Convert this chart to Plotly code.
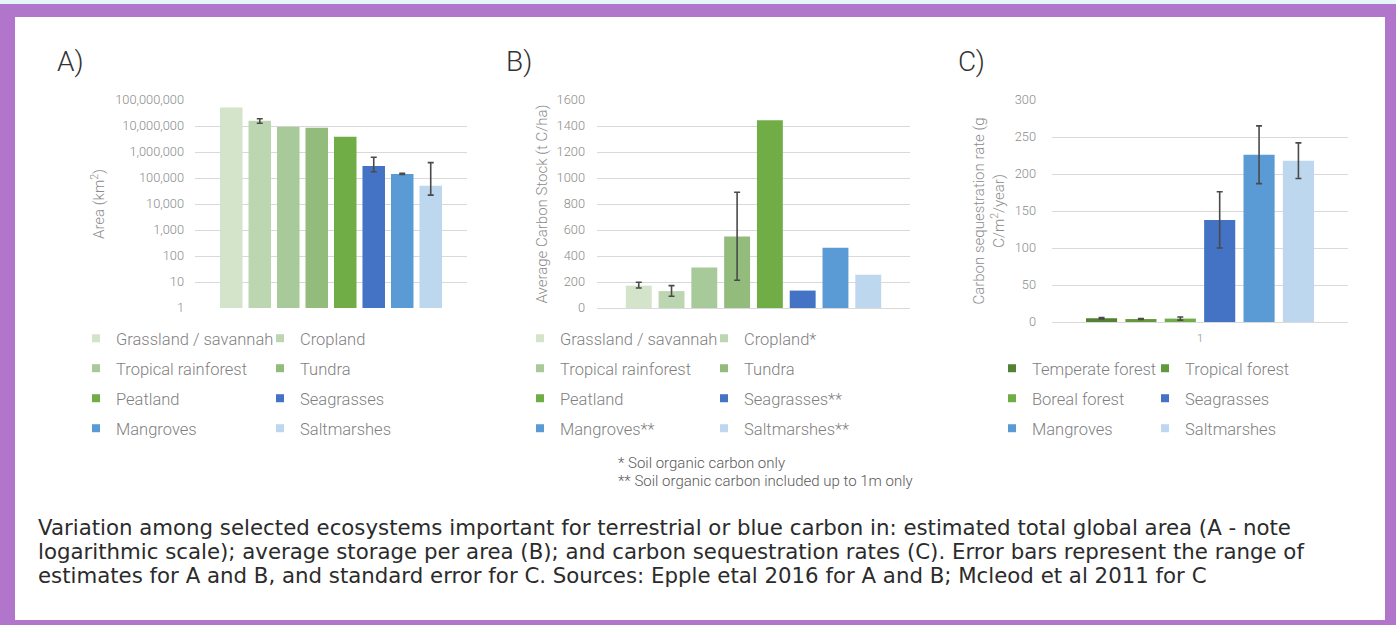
import plotly.graph_objects as go

W, H = 1396, 625


def px(x):
    return x / W


def py(y):
    return 1 - y / H


GROUP_LABEL = ["1"]

# ---------------- Panel A: area (km2), log scale ----------------
A_CATS = ["Grassland / savannah", "Cropland", "Tropical rainforest", "Tundra",
          "Peatland", "Seagrasses", "Mangroves", "Saltmarshes"]
A_AREA = [52000000, 16000000, 9400000, 8500000, 3900000, 290000, 142000, 50000]
A_HI = [None, 19000000, None, None, None, 630000, 152000, 390000]
A_LO = [None, 12700000, None, None, None, 175000, 138000, 22000]
A_TICKS = [1, 10, 100, 1000, 10000, 100000, 1000000, 10000000, 100000000]
A_TICKTEXT = [f"{v:,}" for v in A_TICKS]

# ---------------- Panel B: average carbon stock (t C/ha) ----------------
B_CATS = ["Grassland / savannah", "Cropland*", "Tropical rainforest", "Tundra",
          "Peatland", "Seagrasses**", "Mangroves**", "Saltmarshes**"]
B_STOCK = [172, 130, 312, 550, 1445, 134, 463, 256]
B_HI = [198, 172, None, 890, None, None, None, None]
B_LO = [154, 90, None, 213, None, None, None, None]

# ---------------- Panel C: sequestration rate (g C/m2/year) ----------------
C_CATS = ["Temperate forest", "Tropical forest", "Boreal forest",
          "Seagrasses", "Mangroves", "Saltmarshes"]
C_RATE = [5.1, 4.0, 4.6, 138, 226, 218]
C_SE = [1.0, 0.5, 2.1, 38, 39, 24]

AB_COLORS = ["#d3e4cb", "#bdd6b2", "#a8ca9a", "#92bb7c", "#70ad47",
             "#4472c4", "#5b9bd5", "#bdd7ee"]
C_COLORS = ["#548235", "#63993e", "#70ad47", "#4472c4", "#5b9bd5", "#bdd7ee"]

CAPTION_LINES = [
    "Variation among selected ecosystems important for terrestrial or blue carbon in: "
    "estimated total global area (A - note",
    "logarithmic scale); average storage per area (B); and carbon sequestration rates (C). "
    "Error bars represent the range of",
    "estimates for A and B, and standard error for C. Sources: Epple etal 2016 for A and B; "
    "Mcleod et al 2011 for C",
]
FOOTNOTES = ["* Soil organic carbon only", "** Soil organic carbon included up to 1m only"]

ERR_COLOR = "#4a4a4a"
GRID = "#d9d9d9"
TICK_COL = "#8c8c8c"
LEG_COL = "#7f7f7f"
FONT = "Roboto"

fig = go.Figure()


def err(v, hi, lo):
    if hi is None:
        return dict(visible=False)
    return dict(type="data", symmetric=False, array=[hi - v], arrayminus=[v - lo],
                color=ERR_COLOR, thickness=1.6, width=3)


def legend_entry(name, color, xa, ya, legend_id):
    # small square swatch used only for the legend
    fig.add_trace(go.Scatter(x=[None], y=[None], mode="markers", name=name,
                             marker=dict(symbol="square", size=8, color=color),
                             xaxis=xa, yaxis=ya, legend=legend_id,
                             legendgroup=name + legend_id, hoverinfo="skip"))


for i, (name, v, hi, lo, c) in enumerate(zip(A_CATS, A_AREA, A_HI, A_LO, AB_COLORS)):
    fig.add_trace(go.Bar(x=GROUP_LABEL, y=[v], name=name, marker_color=c,
                         marker_line_width=0, xaxis="x", yaxis="y",
                         error_y=err(v, hi, lo), showlegend=False))
for i, (name, v, hi, lo, c) in enumerate(zip(B_CATS, B_STOCK, B_HI, B_LO, AB_COLORS)):
    fig.add_trace(go.Bar(x=GROUP_LABEL, y=[v], name=name, marker_color=c,
                         marker_line_width=0, xaxis="x2", yaxis="y2",
                         error_y=err(v, hi, lo), showlegend=False))
for i, (name, v, se, c) in enumerate(zip(C_CATS, C_RATE, C_SE, C_COLORS)):
    fig.add_trace(go.Bar(x=GROUP_LABEL, y=[v], name=name, marker_color=c,
                         marker_line_width=0, xaxis="x3", yaxis="y3",
                         error_y=dict(type="data", array=[se], color=ERR_COLOR,
                                      thickness=1.6, width=3),
                         showlegend=False))

for i, (name, c) in enumerate(zip(A_CATS, AB_COLORS)):
    legend_entry(name, c, "x", "y", "legend" if i % 2 == 0 else "legend2")
for i, (name, c) in enumerate(zip(B_CATS, AB_COLORS)):
    legend_entry(name, c, "x2", "y2", "legend3" if i % 2 == 0 else "legend4")
for i, (name, c) in enumerate(zip(C_CATS, C_COLORS)):
    legend_entry(name, c, "x3", "y3", "legend5" if i % 2 == 0 else "legend6")

tickfont = dict(family=FONT, size=12.8, color=TICK_COL, weight=300)
titlefont = dict(family=FONT, size=15, color=TICK_COL, weight=300)

xcommon = dict(type="category", showgrid=False, zeroline=False, showline=False,
               ticks="", fixedrange=True, automargin=False)
ycommon = dict(showgrid=True, gridcolor=GRID, gridwidth=1, zeroline=False,
               showline=False, ticks="", tickfont=tickfont, fixedrange=True,
               automargin=False)


def leg(x, y):
    return dict(x=px(x), y=py(y), xanchor="left", yanchor="top",
                orientation="v", bgcolor="rgba(0,0,0,0)", borderwidth=0,
                font=dict(family=FONT, size=16.5, color=LEG_COL, weight=300),
                tracegroupgap=5.55, traceorder="grouped", itemsizing="trace")


fig.update_layout(
    template="none",
    width=W, height=H,
    margin=dict(l=0, r=0, t=0, b=0, pad=0, autoexpand=False),
    paper_bgcolor="#b175cc",
    plot_bgcolor="rgba(0,0,0,0)",
    barmode="group", bargap=0.162, bargroupgap=0.21,
    showlegend=True,
    xaxis=dict(xcommon, domain=[px(195), px(467)], anchor="y",
               range=[-0.5, 0.5], showticklabels=False),
    yaxis=dict(ycommon, domain=[py(308), py(100)], anchor="x", type="log",
               range=[0, 8], tickvals=A_TICKS, ticktext=A_TICKTEXT,
               ticklabelstandoff=10,
               title=dict(text="Area (km<sup>2</sup>)", font=titlefont, standoff=6)),
    xaxis2=dict(xcommon, domain=[px(597), px(910)], anchor="y2",
                range=[-0.5, 0.5], showticklabels=False),
    yaxis2=dict(ycommon, domain=[py(308), py(100)], anchor="x2",
                range=[0, 1600], dtick=200, ticklabelstandoff=11,
                zeroline=True, zerolinecolor=GRID, zerolinewidth=1,
                title=dict(text="Average Carbon Stock (t C/ha)", font=titlefont,
                           standoff=5)),
    xaxis3=dict(xcommon, domain=[px(1052), px(1348)], anchor="y3",
                range=[-0.525, 0.525], showticklabels=True,
                tickfont=dict(family=FONT, size=11, color=TICK_COL, weight=300),
                ticklabelstandoff=8),
    yaxis3=dict(ycommon, domain=[py(322), py(100)], anchor="x3",
                range=[0, 300], dtick=50, ticklabelstandoff=15,
                zeroline=True, zerolinecolor=GRID, zerolinewidth=1,
                title=dict(text="Carbon sequestration rate (g<br>C/m<sup>2</sup>/year)",
                           font=titlefont, standoff=6)),
    legend=leg(76, 321),
    legend2=leg(260, 321),
    legend3=leg(520, 321),
    legend4=leg(704, 321),
    legend5=leg(992, 351),
    legend6=leg(1145, 351),
)

shapes = [
    dict(type="rect", xref="paper", yref="paper", x0=0, x1=1, y0=py(4), y1=1,
         fillcolor="#e6f5f7", line_width=0, layer="below"),
    dict(type="rect", xref="paper", yref="paper", x0=px(15), x1=px(1385),
         y0=py(620), y1=py(17), fillcolor="#ffffff", line_width=0, layer="below"),
]
fig.update_layout(shapes=shapes)

annotations = [
    dict(text="A)", x=px(55), y=py(62), xanchor="left", yanchor="middle",
         font=dict(family=FONT, size=28, color="#333333", weight=300)),
    dict(text="B)", x=px(504), y=py(62), xanchor="left", yanchor="middle",
         font=dict(family=FONT, size=28, color="#333333", weight=300)),
    dict(text="C)", x=px(956), y=py(62), xanchor="left", yanchor="middle",
         font=dict(family=FONT, size=28, color="#333333", weight=300)),
]
for k, line in enumerate(FOOTNOTES):
    annotations.append(dict(text=line, x=px(616), y=py(463 + 18 * k),
                            xanchor="left", yanchor="middle", align="left",
                            font=dict(family=FONT, size=15, color="#595959", weight=300)))
for k, line in enumerate(CAPTION_LINES):
    annotations.append(dict(text=line, x=px(36), y=py(527 + 24 * k),
                            xanchor="left", yanchor="middle", align="left",
                            font=dict(family="DejaVu Sans", size=21.3, color="#2b2b2b")))
for a in annotations:
    a.update(xref="paper", yref="paper", showarrow=False)
fig.update_layout(annotations=annotations)

fig.write_html("out.html", config={"displayModeBar": False},
               post_script="document.body.style.margin='0';document.body.style.overflow='hidden';")
